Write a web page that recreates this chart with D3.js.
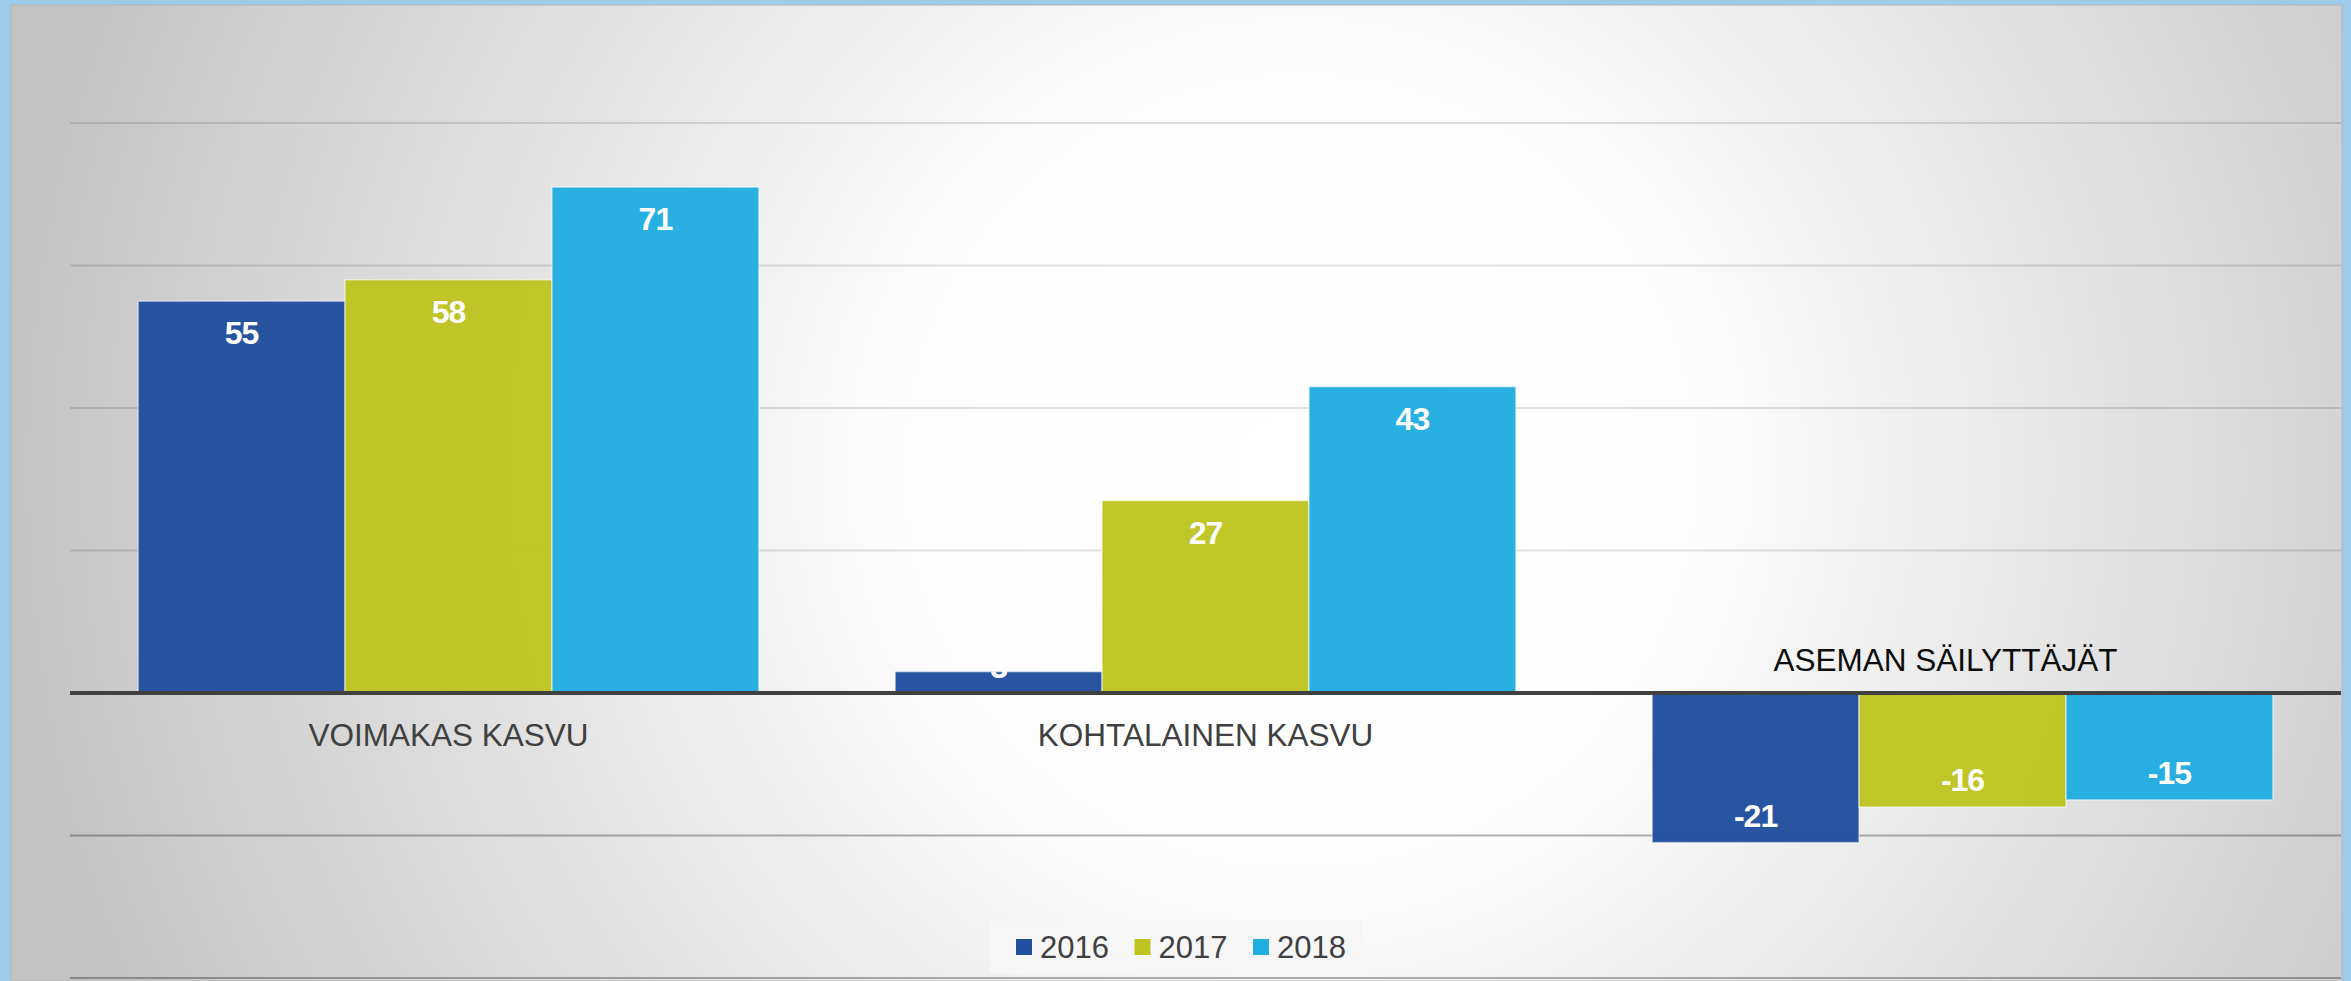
<!DOCTYPE html>
<html>
<head>
<meta charset="utf-8">
<script src="https://cdn.jsdelivr.net/npm/d3@7"></script>
<style>
	html, body { margin: 0; padding: 0; background: #9ccbeb; overflow: hidden; }
	svg { display: block; }
</style>
</head>
<body>
<div id="chart"></div>
<script>
// chart data
const categories = ['VOIMAKAS KASVU', 'KOHTALAINEN KASVU', 'ASEMAN SÄILYTTÄJÄT']
const years = ['2016', '2017', '2018']
const values2016 = [55, 3, -21]
const values2017 = [58, 27, -16]
const values2018 = [71, 43, -15]
const gridTicks = [-40, -20, 20, 40, 60, 80]
const yDomain = [-40, 80]

const seriesValues = [values2016, values2017, values2018]
const colors = ['#214f9f', '#bec321', '#22ade1']

const width = 2351
const height = 981
const panel = { left: 11, top: 5, right: 2342 }
const plot = { left: 70, right: 2341, top: 123, bottom: 978 }
const font = '"Liberation Sans", Arial, sans-serif'

const svg = d3.select('#chart')
	.append('svg')
	.attr('width', width)
	.attr('height', height)

/*
 *	BACKGROUND
 */
const defs = svg.append('defs')
const grad = defs.append('radialGradient')
	.attr('id', 'bg')
	.attr('gradientUnits', 'userSpaceOnUse')
	.attr('cx', 1300).attr('cy', 470).attr('r', 1320)
grad.append('stop').attr('offset', 0).attr('stop-color', '#ffffff')
grad.append('stop').attr('offset', 0.3).attr('stop-color', '#fdfdfd')
grad.append('stop').attr('offset', 1).attr('stop-color', '#c2c2c2')

svg.append('rect')
	.attr('x', panel.left)
	.attr('y', panel.top)
	.attr('width', panel.right - panel.left)
	.attr('height', height - panel.top)
	.attr('fill', 'url(#bg)')
	.attr('stroke', '#b5b5b5')
	.attr('stroke-width', 1)

/*
 *	SCALES
 */
const y = d3.scaleLinear().domain(yDomain).range([plot.bottom, plot.top])

const x0 = d3.scaleBand()
	.domain(categories)
	.range([plot.left, plot.right])
	.paddingInner(0.18)
	.paddingOuter(0.09)

const x1 = d3.scaleBand()
	.domain(years)
	.range([0, x0.bandwidth()])
	.padding(0)

// gridlines (the ones under zero read darker in the original)
svg.append('g')
	.selectAll('line')
	.data(gridTicks)
	.join('line')
	.attr('x1', plot.left)
	.attr('x2', plot.right)
	.attr('y1', d => y(d))
	.attr('y2', d => y(d))
	.attr('stroke', d => d < 0 ? 'rgba(0,0,0,0.3)' : 'rgba(0,0,0,0.12)')
	.attr('stroke-width', 2)

/*
 *	BARS
 */
const rows = []
categories.forEach((cat, ci) => {
	years.forEach((yr, si) => {
		rows.push({ cat, yr, si, value: seriesValues[si][ci] })
	})
})

const barG = svg.append('g')
barG.selectAll('rect')
	.data(rows)
	.join('rect')
	.attr('x', d => x0(d.cat) + x1(d.yr))
	.attr('width', x1.bandwidth())
	.attr('y', d => Math.min(y(d.value), y(0)))
	.attr('height', d => Math.abs(y(d.value) - y(0)))
	.attr('fill', d => colors[d.si])
	.attr('fill-opacity', 0.97)
	.attr('stroke', 'rgba(255,255,255,0.5)')
	.attr('stroke-width', 1.5)

// value labels, inside end of each bar
barG.selectAll('text')
	.data(rows)
	.join('text')
	.attr('x', d => x0(d.cat) + x1(d.yr) + x1.bandwidth() / 2)
	.attr('y', d => d.value >= 0
		? Math.min(y(d.value) + 43, y(0) - 15)
		: y(d.value) - 16)
	.attr('text-anchor', 'middle')
	.attr('font-family', font)
	.attr('font-weight', 'bold')
	.attr('font-size', 32)
	.attr('letter-spacing', -1)
	.attr('fill', '#ffffff')
	.text(d => d.value)

// zero axis
svg.append('line')
	.attr('x1', plot.left)
	.attr('x2', plot.right)
	.attr('y1', y(0))
	.attr('y2', y(0))
	.attr('stroke', '#404040')
	.attr('stroke-width', 4)

// category labels: below the axis, or above it when the group is negative
svg.append('g')
	.selectAll('text')
	.data(categories)
	.join('text')
	.attr('x', (d, i) => x0(d) + x0.bandwidth() / 2 + (values2016[i] < 0 ? -17 : 0))
	.attr('y', (d, i) => values2016[i] < 0 ? y(0) - 22 : y(0) + 53)
	.attr('text-anchor', 'middle')
	.attr('font-family', font)
	.attr('font-size', 31.5)
	.attr('fill', (d, i) => values2016[i] < 0 ? '#0d0d0d' : '#404040')
	.text(d => d)

/*
 *	LEGEND
 */
const legend = svg.append('g').attr('transform', 'translate(990,921)')
legend.append('rect')
	.attr('width', 372)
	.attr('height', 52)
	.attr('fill', '#f6f6f6')

const item = legend.selectAll('g')
	.data(years)
	.join('g')
	.attr('transform', (d, i) => `translate(${26 + i * 118.5},0)`)

item.append('rect')
	.attr('y', 18)
	.attr('width', 16)
	.attr('height', 16)
	.attr('fill', (d, i) => colors[i])

item.append('text')
	.attr('x', 24)
	.attr('y', 37)
	.attr('font-family', font)
	.attr('font-size', 31)
	.attr('fill', '#404040')
	.text(d => d)
</script>
</body>
</html>
